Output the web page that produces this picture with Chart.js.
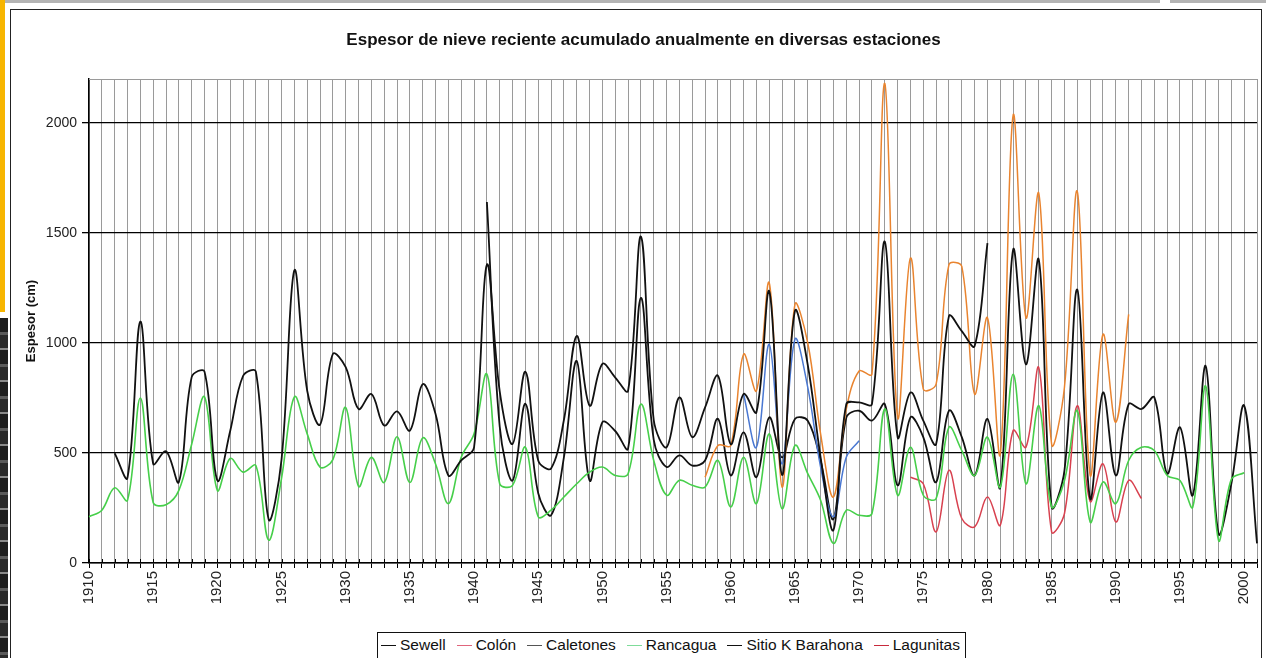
<!DOCTYPE html>
<html lang="es">
<head>
<meta charset="utf-8">
<title>Espesor de nieve reciente</title>
<script src="https://cdn.jsdelivr.net/npm/chart.js@4.4.1/dist/chart.umd.min.js"></script>
<style>
  html, body { margin: 0; padding: 0; background: #fff; overflow: hidden; }
  body { width: 1266px; height: 658px; position: relative; font-family: 'Liberation Sans', Arial, sans-serif; }
  .topbar { position: absolute; top: 0; height: 3px; background: #b4b4b4; }
  .sidebar-a { position: absolute; left: 0; top: 0; width: 5px; height: 312px; background: #f7b500; }
  .sidebar-b { position: absolute; left: 0; top: 318px; width: 8px; height: 340px;
    background: repeating-linear-gradient(180deg, #1e1e1e 0 14px, #5a5a5a 14px 17px, #2a2a2a 17px 30px, #8a8a8a 30px 32px); }
  .frame { position: absolute; left: 10px; top: 9px; width: 1252px; height: 700px; border: 1.5px solid #222; box-sizing: border-box; }
  #title { position: absolute; left: 0; top: 30px; width: 1287px; text-align: center; font-weight: bold; font-size: 17px; line-height: 20px; color: #111; }
  #wrap { position: absolute; left: 0; top: 0; width: 1266px; height: 658px; }
  #legend { position: absolute; left: 377px; top: 632px; width: 589px; height: 40px; border: 1.5px solid #111; box-sizing: border-box;
    display: flex; justify-content: space-between; align-items: flex-start; padding: 3px 5px 0 3px; font-size: 15.5px; line-height: 18px; color: #111; background: #fff; }
  #legend .item { display: flex; align-items: center; white-space: nowrap; }
  #legend .sw { display: inline-block; width: 15px; height: 0; border-top: 1.5px solid; margin-right: 4px; }
</style>
</head>
<body>
<div class="topbar" style="left:0;width:1160px"></div>
<div class="topbar" style="left:1170px;width:96px"></div>
<div class="sidebar-a"></div>
<div class="sidebar-b"></div>
<div class="frame"></div>
<div id="wrap"><canvas id="chart" width="1266" height="658"></canvas></div>
<div id="title">Espesor de nieve reciente acumulado anualmente en diversas estaciones</div>
<div id="legend"></div>
<script>
// Years on the category axis
const years = [
  1910, 1911, 1912, 1913, 1914, 1915, 1916, 1917, 1918, 1919,
  1920, 1921, 1922, 1923, 1924, 1925, 1926, 1927, 1928, 1929,
  1930, 1931, 1932, 1933, 1934, 1935, 1936, 1937, 1938, 1939,
  1940, 1941, 1942, 1943, 1944, 1945, 1946, 1947, 1948, 1949,
  1950, 1951, 1952, 1953, 1954, 1955, 1956, 1957, 1958, 1959,
  1960, 1961, 1962, 1963, 1964, 1965, 1966, 1967, 1968, 1969,
  1970, 1971, 1972, 1973, 1974, 1975, 1976, 1977, 1978, 1979,
  1980, 1981, 1982, 1983, 1984, 1985, 1986, 1987, 1988, 1989,
  1990, 1991, 1992, 1993, 1994, 1995, 1996, 1997, 1998, 1999,
  2000, 2001
];
// Years that get a printed label
const yearLabels = [1910, 1915, 1920, 1925, 1930, 1935, 1940, 1945, 1950, 1955, 1960, 1965, 1970, 1975, 1980, 1985, 1990, 1995, 2000];
// Value axis ticks (cm)
const yTicks = [0, 500, 1000, 1500, 2000];
const yMax = 2200;

// Annual fresh snow depth (cm) per station, one value per year (null = no record)
const sewell = [
  null, null, 499, 388, 1097, 451, 508, 368, 845, 870,
  375, 600, 850, 870, 198, 470, 1330, 783, 629, 950,
  890, 700, 768, 625, 689, 602, 813, 677, 398, 466,
  526, 1356, 780, 541, 869, 466, 430, 650, 1032, 715,
  905, 843, 783, 1484, 650, 526, 753, 572, 707, 851,
  540, 768, 685, 1235, 400, 1145, 900, 480, 150, 722,
  730, 722, 1461, 572, 775, 647, 541, 1122, 1054, 986,
  1454, null, null, null, null, null, null, null, null, null,
  null, null, null, null, null, null, null, null, null, null,
  null, null
];
const colon = [
  null, null, null, null, null, null, null, null, null, null,
  null, null, null, null, null, null, null, null, null, null,
  null, null, null, null, null, null, null, null, null, null,
  null, null, null, null, null, null, null, null, null, null,
  null, null, null, null, null, null, null, null, 390, 534,
  534, 949, 783, 1273, 345, 1175, 1000, 587, 300, 700,
  873, 858, 2180, 662, 1386, 790, 813, 1356, 1348, 768,
  1115, 496, 2035, 1115, 1680, 540, 800, 1688, 400, 1039,
  640, 1130, null, null, null, null, null, null, null, null,
  null, null
];
const caletones = [
  null, null, null, null, null, null, null, null, null, null,
  null, null, null, null, null, null, null, null, null, null,
  null, null, null, null, null, null, null, null, null, null,
  null, null, null, null, null, null, null, null, null, null,
  null, null, null, null, null, null, null, null, null, null,
  null, 768, 526, 994, 450, 1017, 798, 436, 210, 481,
  556, null, null, null, null, null, null, null, null, null,
  null, null, null, null, null, null, null, null, null, null,
  null, null, null, null, null, null, null, null, null, null,
  null, null
];
const rancagua = [
  210, 240, 342, 285, 750, 275, 265, 330, 540, 755,
  330, 475, 413, 443, 104, 385, 755, 587, 436, 470,
  707, 348, 480, 366, 574, 366, 569, 450, 270, 481,
  587, 858, 360, 353, 526, 210, 240, 300, 360, 413,
  436, 398, 406, 722, 466, 308, 376, 353, 345, 466,
  255, 481, 270, 587, 247, 534, 406, 285, 89, 240,
  217, 225, 700, 308, 526, 308, 293, 617, 511, 398,
  572, 345, 858, 360, 715, 255, 375, 692, 187, 368,
  270, 466, 526, 511, 398, 375, 255, 805, 104, 380,
  410, null
];
const sitioKBarahona = [
  null, null, null, null, null, null, null, null, null, null,
  null, null, null, null, null, null, null, null, null, null,
  null, null, null, null, null, null, null, null, null, null,
  null, 1641, 620, 375, 724, 317, 217, 480, 918, 375,
  640, 600, 520, 1205, 560, 436, 489, 443, 466, 655,
  398, 594, 390, 662, 480, 655, 647, 466, 200, 660,
  692, 647, 722, 353, 662, 572, 368, 692, 572, 398,
  655, 345, 1424, 903, 1379, 255, 421, 1243, 293, 775,
  398, 722, 700, 753, 406, 617, 308, 896, 134, 360,
  715, 89
];
const lagunitas = [
  null, null, null, null, null, null, null, null, null, null,
  null, null, null, null, null, null, null, null, null, null,
  null, null, null, null, null, null, null, null, null, null,
  null, null, null, null, null, null, null, null, null, null,
  null, null, null, null, null, null, null, null, null, null,
  null, null, null, null, null, null, null, null, null, null,
  null, null, null, null, 390, 360, 142, 421, 202, 164,
  300, 172, 602, 526, 888, 142, 225, 715, 280, 451,
  187, 375, 293, null, null, null, null, null, null, null,
  null, null
];

const FONT = "'Liberation Sans', Arial, sans-serif";

const stations = [
  { label: 'Sewell',           data: sewell,         color: '#111111', key: '#111111', width: 1.8 },
  { label: 'Colón',            data: colon,          color: '#e9842f', key: '#e0657c', width: 1.5 },
  { label: 'Caletones',        data: caletones,      color: '#4a78d2', key: '#555555', width: 1.5 },
  { label: 'Rancagua',         data: rancagua,       color: '#46cf4a', key: '#7fdc9a', width: 1.6 },
  { label: 'Sitio K Barahona', data: sitioKBarahona, color: '#111111', key: '#111111', width: 1.8 },
  { label: 'Lagunitas',        data: lagunitas,      color: '#d8414f', key: '#c82a3c', width: 1.5 }
];

// Black tick marks crossing the category axis and the grey top edge of the plot
const axisMarks = {
  id: 'axisMarks',
  beforeDatasetsDraw(chart) {
    const { ctx, chartArea: a, scales: { x } } = chart;
    ctx.save();
    ctx.strokeStyle = '#9a9a9a';
    ctx.lineWidth = 1;
    ctx.beginPath();
    ctx.moveTo(a.left, Math.round(a.top) + 0.5);
    ctx.lineTo(a.right, Math.round(a.top) + 0.5);
    ctx.stroke();
    ctx.strokeStyle = '#000';
    ctx.beginPath();
    years.forEach((_, i) => {
      const px = Math.round(x.getPixelForValue(i)) + 0.5;
      ctx.moveTo(px, a.bottom - 4);
      ctx.lineTo(px, a.bottom);
    });
    ctx.stroke();
    ctx.restore();
  }
};

const chart = new Chart(document.getElementById('chart'), {
  type: 'line',
  data: {
    labels: years,
    datasets: stations.map(s => ({
      label: s.label,
      data: s.data,
      borderColor: s.color,
      backgroundColor: s.color,
      borderWidth: s.width,
      pointRadius: 0,
      tension: 0.36,
      fill: false,
      spanGaps: false
    }))
  },
  options: {
    responsive: false,
    animation: false,
    layout: { padding: { left: 10, top: 79, right: 9, bottom: 0 } },
    plugins: {
      legend: { display: false },
      title: { display: false },
      tooltip: { enabled: false }
    },
    scales: {
      x: {
        type: 'category',
        offset: false,
        grid: { color: '#9a9a9a', lineWidth: 1, tickColor: '#000', tickLength: 5, drawOnChartArea: true },
        border: { color: '#000', width: 1.5 },
        ticks: {
          autoSkip: false,
          minRotation: 90,
          maxRotation: 90,
          padding: 3,
          color: '#222',
          font: { family: FONT, size: 15 },
          callback: (v, i) => yearLabels.includes(years[i]) ? String(years[i]) : ''
        },
        afterFit: s => { s.height = 95; s.paddingLeft = 0; s.paddingRight = 0; }
      },
      y: {
        min: 0,
        max: yMax,
        grid: { color: '#000', lineWidth: 1.3, tickColor: '#000', tickLength: 7 },
        border: { color: '#000', width: 1.5 },
        ticks: {
          stepSize: 500,
          padding: 5,
          color: '#222',
          font: { family: FONT, size: 14 },
          callback: v => String(v)
        },
        afterBuildTicks: s => { s.ticks = yTicks.map(v => ({ value: v })); },
        title: {
          display: true,
          text: 'Espesor (cm)',
          color: '#111',
          font: { family: FONT, size: 13, weight: 'bold' },
          padding: { top: 14, bottom: 0 }
        },
        afterFit: s => { s.width = 79; s.paddingTop = 0; s.paddingBottom = 0; }
      }
    }
  },
  plugins: [axisMarks]
});

// Legend row built from the datasets
const legend = document.getElementById('legend');
stations.forEach(s => {
  const item = document.createElement('span');
  item.className = 'item';
  const sw = document.createElement('span');
  sw.className = 'sw';
  sw.style.borderTopColor = s.key;
  item.appendChild(sw);
  item.appendChild(document.createTextNode(s.label));
  legend.appendChild(item);
});
</script>
</body>
</html>
